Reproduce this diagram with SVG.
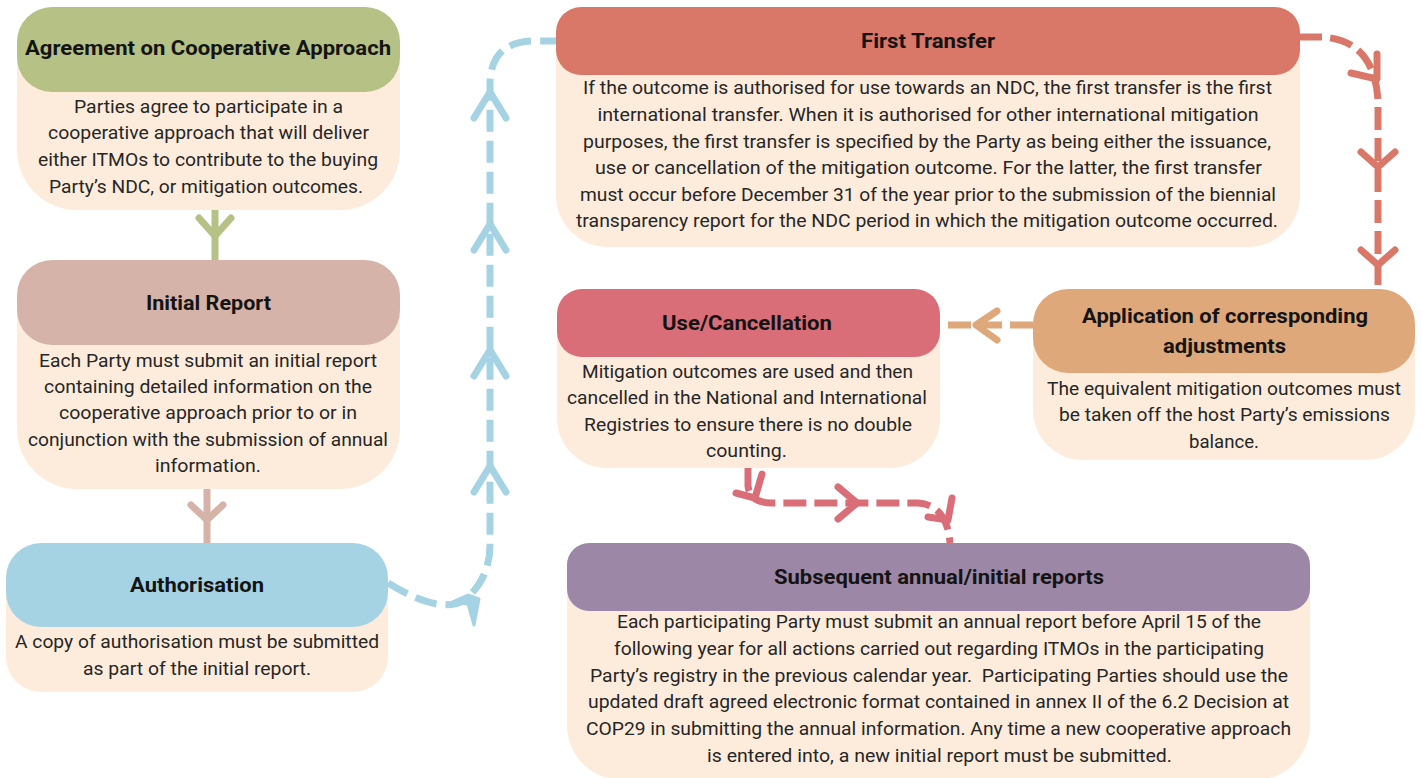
<svg xmlns="http://www.w3.org/2000/svg" width="1422" height="778" viewBox="0 0 1422 778">
<defs>
<style>
.body{fill:#fdecdc}
.t{font-family:Roboto,"Liberation Sans",sans-serif;font-size:20px;font-weight:700;fill:#141414;text-anchor:middle}
.b{font-family:Roboto,"Liberation Sans",sans-serif;font-size:19px;fill:#262626;text-anchor:middle}
.ln{fill:none;stroke-width:7}
.dash{stroke-dasharray:23 8}
.chev{fill:none;stroke-width:7;stroke-linecap:round;stroke-linejoin:round}
.g{stroke:#b5c185}.br{stroke:#d6b3a8}.bl{stroke:#a5d3e3}.rd{stroke:#d97868}.or{stroke:#dea87a}.pk{stroke:#d96e78}
</style>
</defs>
<rect width="1422" height="778" fill="#ffffff"/>

<g id="connectors">
<!-- green -->
<path class="ln g" d="M215,208 V261"/>
<path class="chev g" d="M199,218 L215,236 L231,218"/>
<!-- brown -->
<path class="ln br" d="M207,489 V543"/>
<path class="chev br" d="M191,505 L207,520 L223,505"/>
<!-- blue -->
<path class="ln bl dash" style="stroke-dasharray:22 9" d="M388,583 Q440,615 465,600 Q490,578 490,545 L490,85 Q490,41 535,41 L556,41"/>
<path class="chev bl" d="M474,118 L490,92 L506,118"/>
<path class="chev bl" d="M474,250 L490,224 L506,250"/>
<path class="chev bl" d="M474,376 L490,350 L506,376"/>
<path class="chev bl" d="M474,492 L490,466 L506,492"/>
<path d="M452,602 L468,595 L479,599 L474,625 L468,604 Z" fill="#a5d3e3" stroke="#a5d3e3" stroke-width="3" stroke-linejoin="round"/>
<!-- red -->
<path class="ln rd dash" d="M1299,37 L1322,37 Q1374,40 1378,100 L1378,290"/>
<path class="chev rd" d="M1351,73 L1377,79 L1377,54"/>
<path class="chev rd" d="M1361,152 L1378,167 L1395,152"/>
<path class="chev rd" d="M1361,250 L1378,265 L1395,250"/>
<!-- orange -->
<path class="ln or dash" d="M1033,325 L940,325"/>
<path class="chev or" d="M997,311 L976,325 L997,340"/>
<!-- pink -->
<path class="ln pk dash" d="M748,468 L748,486 Q750,503 772,503 L918,503 Q947,505 950,543"/>
<path class="chev pk" d="M736,493 L755,498 L762,474"/>
<path class="chev pk" d="M838,487 L857,503 L838,519"/>
<path class="chev pk" d="M928,517 L948,520 L952,498"/>
</g>

<g id="node-agreement">
<path class="body" d="M17,50 H400 V150 A60,60 0 0 1 340,210 H77 A60,60 0 0 1 17,150 Z"/>
<rect x="17" y="7" width="383" height="85" rx="35" fill="#b5c185"/>
<text class="t" x="208" y="55" textLength="366" lengthAdjust="spacingAndGlyphs">Agreement on Cooperative Approach</text>
<text class="b" x="208.5" y="113" textLength="269" lengthAdjust="spacingAndGlyphs">Parties agree to participate in a</text>
<text class="b" x="208.5" y="139" textLength="321" lengthAdjust="spacingAndGlyphs">cooperative approach that will deliver</text>
<text class="b" x="208" y="166" textLength="340" lengthAdjust="spacingAndGlyphs">either ITMOs to contribute to the buying</text>
<text class="b" x="206" y="193" textLength="314" lengthAdjust="spacingAndGlyphs">Party’s NDC, or mitigation outcomes.</text>
</g>

<g id="node-initial">
<path class="body" d="M17,300 H400 V429 A60,60 0 0 1 340,489 H77 A60,60 0 0 1 17,429 Z"/>
<rect x="17" y="260" width="383" height="85" rx="35" fill="#d6b3a8"/>
<text class="t" x="208.5" y="310" textLength="125" lengthAdjust="spacingAndGlyphs">Initial Report</text>
<text class="b" x="208" y="367" textLength="338" lengthAdjust="spacingAndGlyphs">Each Party must submit an initial report</text>
<text class="b" x="208" y="393" textLength="328" lengthAdjust="spacingAndGlyphs">containing detailed information on the</text>
<text class="b" x="208" y="419" textLength="298" lengthAdjust="spacingAndGlyphs">cooperative approach prior to or in</text>
<text class="b" x="208" y="446" textLength="360" lengthAdjust="spacingAndGlyphs">conjunction with the submission of annual</text>
<text class="b" x="208" y="472" textLength="106" lengthAdjust="spacingAndGlyphs">information.</text>
</g>

<g id="node-authorisation">
<path class="body" d="M6,590 H388 V657 A35,35 0 0 1 353,692 H41 A35,35 0 0 1 6,657 Z"/>
<rect x="6" y="543" width="382" height="84" rx="35" fill="#a5d3e3"/>
<text class="t" x="197" y="592" textLength="134" lengthAdjust="spacingAndGlyphs">Authorisation</text>
<text class="b" x="197" y="648" textLength="364" lengthAdjust="spacingAndGlyphs">A copy of authorisation must be submitted</text>
<text class="b" x="197" y="675" textLength="228" lengthAdjust="spacingAndGlyphs">as part of the initial report.</text>
</g>

<g id="node-first-transfer">
<path class="body" d="M556,40 H1300 V195 A52,52 0 0 1 1248,247 H608 A52,52 0 0 1 556,195 Z"/>
<rect x="556" y="7" width="744" height="68" rx="25" fill="#d97868"/>
<text class="t" x="928" y="48" textLength="134" lengthAdjust="spacingAndGlyphs">First Transfer</text>
<text class="b" x="927.5" y="94" textLength="689" lengthAdjust="spacingAndGlyphs">If the outcome is authorised for use towards an NDC, the first transfer is the first</text>
<text class="b" x="928" y="121" textLength="661" lengthAdjust="spacingAndGlyphs">international transfer. When it is authorised for other international mitigation</text>
<text class="b" x="927" y="148" textLength="688" lengthAdjust="spacingAndGlyphs">purposes, the first transfer is specified by the Party as being either the issuance,</text>
<text class="b" x="928.5" y="174" textLength="667" lengthAdjust="spacingAndGlyphs">use or cancellation of the mitigation outcome. For the latter, the first transfer</text>
<text class="b" x="928" y="201" textLength="696" lengthAdjust="spacingAndGlyphs">must occur before December 31 of the year prior to the submission of the biennial</text>
<text class="b" x="927" y="227" textLength="702" lengthAdjust="spacingAndGlyphs">transparency report for the NDC period in which the mitigation outcome occurred.</text>
</g>

<g id="node-use-cancellation">
<path class="body" d="M557,320 H940 V418 A50,50 0 0 1 890,468 H607 A50,50 0 0 1 557,418 Z"/>
<rect x="557" y="289" width="383" height="68" rx="25" fill="#d96e78"/>
<text class="t" x="747" y="330" textLength="170" lengthAdjust="spacingAndGlyphs">Use/Cancellation</text>
<text class="b" x="747.5" y="378" textLength="331" lengthAdjust="spacingAndGlyphs">Mitigation outcomes are used and then</text>
<text class="b" x="747" y="404" textLength="360" lengthAdjust="spacingAndGlyphs">cancelled in the National and International</text>
<text class="b" x="748" y="431" textLength="328" lengthAdjust="spacingAndGlyphs">Registries to ensure there is no double</text>
<text class="b" x="746.5" y="457" textLength="81" lengthAdjust="spacingAndGlyphs">counting.</text>
</g>

<g id="node-application">
<path class="body" d="M1033,330 H1415 V410 A50,50 0 0 1 1365,460 H1083 A50,50 0 0 1 1033,410 Z"/>
<rect x="1033" y="289" width="382" height="84" rx="35" fill="#dea87a"/>
<text class="t" x="1225" y="323" textLength="286" lengthAdjust="spacingAndGlyphs">Application of corresponding</text>
<text class="t" x="1224.5" y="353" textLength="123" lengthAdjust="spacingAndGlyphs">adjustments</text>
<text class="b" x="1224" y="395" textLength="354" lengthAdjust="spacingAndGlyphs">The equivalent mitigation outcomes must</text>
<text class="b" x="1224.5" y="421" textLength="331" lengthAdjust="spacingAndGlyphs">be taken off the host Party’s emissions</text>
<text class="b" x="1224" y="448" textLength="70" lengthAdjust="spacingAndGlyphs">balance.</text>
</g>

<g id="node-subsequent">
<path class="body" d="M567,575 H1310 V725 A55,55 0 0 1 1255,780 H622 A55,55 0 0 1 567,725 Z"/>
<rect x="567" y="543" width="743" height="68" rx="22" fill="#9d87a6"/>
<text class="t" x="939" y="584" textLength="330" lengthAdjust="spacingAndGlyphs">Subsequent annual/initial reports</text>
<text class="b" x="939" y="628" textLength="644" lengthAdjust="spacingAndGlyphs">Each participating Party must submit an annual report before April 15 of the</text>
<text class="b" x="939" y="655" textLength="650" lengthAdjust="spacingAndGlyphs">following year for all actions carried out regarding ITMOs in the participating</text>
<text class="b" x="939" y="682" textLength="698" lengthAdjust="spacingAndGlyphs" xml:space="preserve">Party’s registry in the previous calendar year.  Participating Parties should use the</text>
<text class="b" x="938.5" y="708" textLength="701" lengthAdjust="spacingAndGlyphs">updated draft agreed electronic format contained in annex II of the 6.2 Decision at</text>
<text class="b" x="938.5" y="735" textLength="705" lengthAdjust="spacingAndGlyphs">COP29 in submitting the annual information. Any time a new cooperative approach</text>
<text class="b" x="939.5" y="762" textLength="465" lengthAdjust="spacingAndGlyphs">is entered into, a new initial report must be submitted.</text>
</g>
</svg>
